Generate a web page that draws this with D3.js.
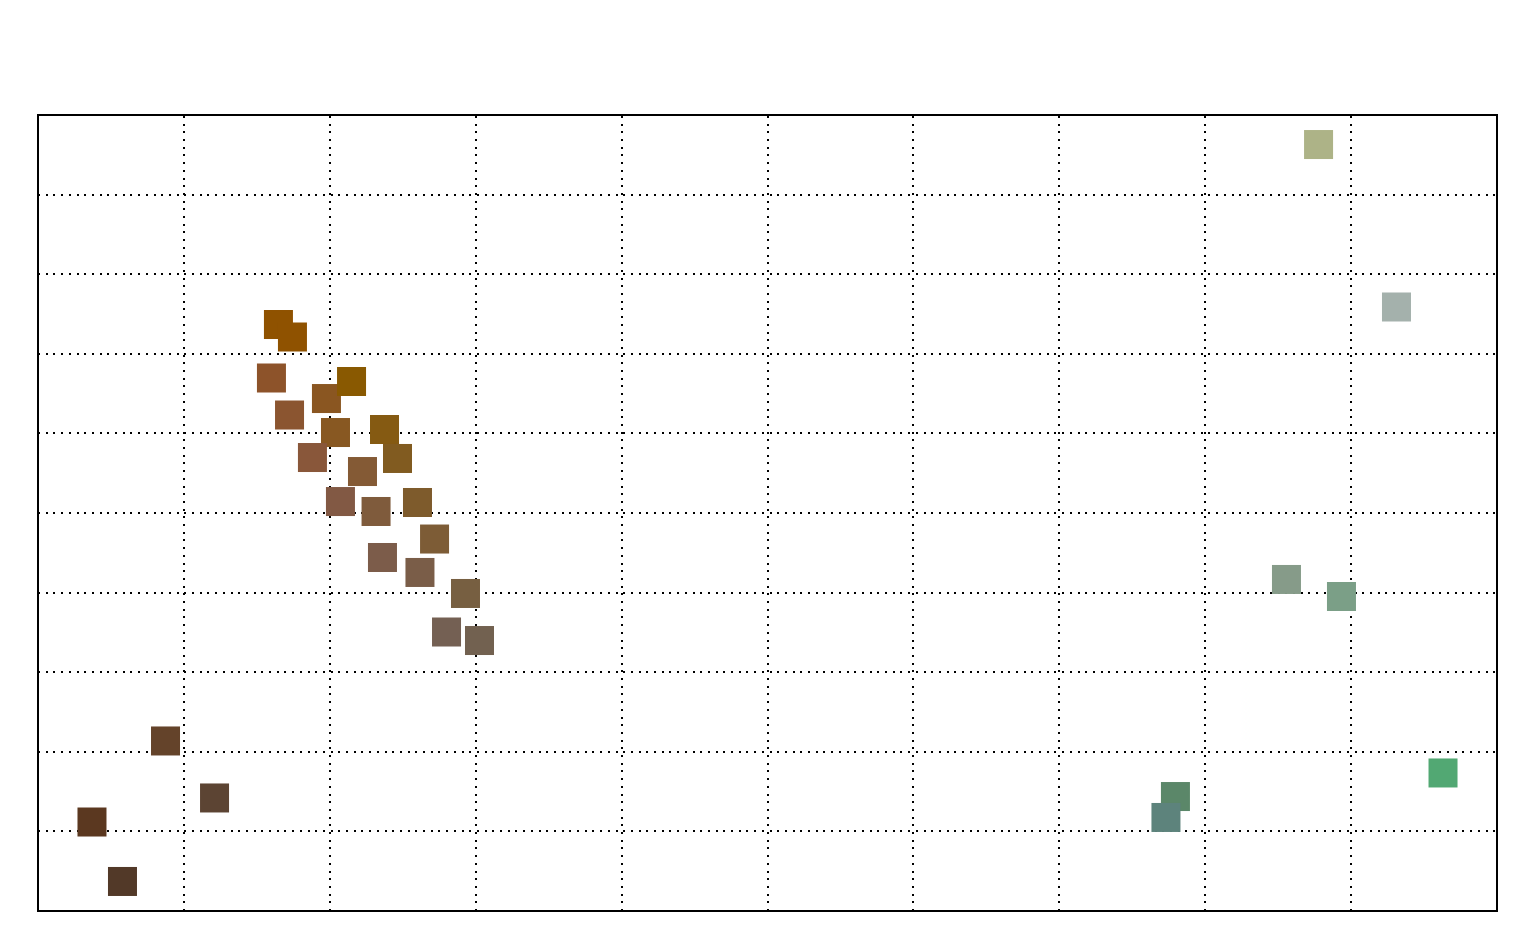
<!DOCTYPE html>
<html>
<head>
<meta charset="utf-8">
<script src="https://cdn.jsdelivr.net/npm/d3@7"></script>
<style>
  html, body { margin: 0; padding: 0; background: #fff; }
  svg { display: block; }
</style>
</head>
<body>
<svg id="chart" width="1536" height="950"></svg>
<script>
// ---- data ----
const xValues = [1.648, 1.744, 1.600, 1.977, 2.149, 1.724, 2.039, 2.375, 1.881, 2.464,
                 2.224, 2.073, 2.317, 2.601, 2.718, 2.361, 2.618, 2.930, 2.800, 3.026,
                 0.874, 1.210, 0.370, 0.579,
                 8.777, 9.311, 8.557, 8.934, 9.630, 7.796, 7.731];
const yValues = [7.368, 7.211, 6.696, 6.438, 6.652, 6.231, 6.011, 6.049, 5.697, 5.685,
                 5.521, 5.144, 5.019, 5.132, 4.673, 4.441, 4.253, 3.989, 3.505, 3.398,
                 2.136, 1.420, 1.118, 0.371,
                 9.629, 7.588, 4.165, 3.951, 1.734, 1.438, 1.175];
const pointColors = ["#8f5200", "#8f5200", "#8d532a", "#8a5621", "#895901", "#8b5530", "#885822", "#855a12", "#89573a", "#815b20",
                     "#845a35", "#825944", "#7f5b3c", "#7e5b2c", "#7d5c36", "#7c5c4a", "#7a5d48", "#775f41", "#746053", "#726150",
                     "#64432a", "#5c4433", "#5b3820", "#523928",
                     "#adb387", "#a4b1ac", "#869b89", "#7b9f87", "#52a873", "#5b8769", "#5d837c"];
const xTicks = [1, 2, 3, 4, 5, 6, 7, 8, 9];
const yTicks = [1, 2, 3, 4, 5, 6, 7, 8, 9];
const xDomain = [0, 10];
const yDomain = [0, 10];

// ---- layout ----
const plotLeft = 38, plotTop = 115, plotRight = 1497, plotBottom = 911;
const W = plotRight - plotLeft, H = plotBottom - plotTop;
const markerSize = 29;

const svg = d3.select("#chart");
const x = d3.scaleLinear().domain(xDomain).range([0, W]);
const y = d3.scaleLinear().domain(yDomain).range([H, 0]);

const g = svg.append("g").attr("transform", `translate(${plotLeft},${plotTop})`);

// grid (vertical)
const gx = g.append("g")
  .attr("transform", `translate(0,${H})`)
  .call(d3.axisBottom(x).tickValues(xTicks).tickSize(-H).tickFormat("").offset(0));
gx.select(".domain").remove();
gx.selectAll(".tick line")
  .attr("stroke", "#000").attr("stroke-width", 2).attr("stroke-dasharray", "2,5.7")
  .attr("shape-rendering", "crispEdges");

// grid (horizontal)
const gy = g.append("g")
  .call(d3.axisLeft(y).tickValues(yTicks).tickSize(-W).tickFormat("").offset(0));
gy.select(".domain").remove();
gy.selectAll(".tick line")
  .attr("stroke", "#000").attr("stroke-width", 2).attr("stroke-dasharray", "2,5.7")
  .attr("shape-rendering", "crispEdges");

// points
const data = xValues.map((v, i) => ({ x: v, y: yValues[i], c: pointColors[i] }));
g.append("g").selectAll("rect")
  .data(data)
  .join("rect")
  .attr("x", d => x(d.x) - markerSize / 2)
  .attr("y", d => y(d.y) - markerSize / 2)
  .attr("width", markerSize)
  .attr("height", markerSize)
  .attr("fill", d => d.c);

// frame
g.append("rect")
  .attr("x", 0).attr("y", 0).attr("width", W).attr("height", H)
  .attr("fill", "none").attr("stroke", "#000").attr("stroke-width", 2)
  .attr("shape-rendering", "crispEdges");
</script>
</body>
</html>
